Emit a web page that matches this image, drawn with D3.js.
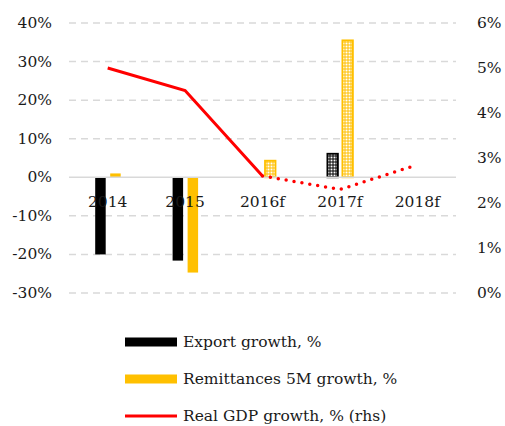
<!DOCTYPE html>
<html lang="en">
<head>
<meta charset="UTF-8">
<title>Export, remittances and GDP growth</title>
<script src="https://d3js.org/d3.v7.min.js"></script>
<style>
    body{ margin:0; padding:0; background:#fff; }
    svg{ font-family: "DejaVu Serif", serif; font-size: 15.5px; }
</style>
</head>
<body>
<svg id="canvas" width="505" height="426"></svg>
<script>

// data
const years = ["2014", "2015", "2016f", "2017f", "2018f"]
const exportGrowth = [-20, -21.6, null, 6.1, null]
const remitGrowth = [1, -24.7, 4.3, 35.5, null]
const gdpGrowth = [5.0, 4.5, 2.6, 2.3, 2.85]
const isForecast = [false, false, true, true, true]
const leftTicks = [40, 30, 20, 10, 0, -10, -20, -30]
const rightTicks = [6, 5, 4, 3, 2, 1, 0]

const svg = d3.select("#canvas")

const x = d3.scaleBand().domain(years).range([69, 456])
const yL = d3.scaleLinear().domain([-30, 40]).range([293, 23])
const yR = d3.scaleLinear().domain([0, 6]).range([293, 23])
const mid = (c) => x(c) + x.bandwidth() / 2

// patterns for forecast bars
const defs = svg.append("defs")
let makePattern = (id, colour) => {
    let p = defs.append("pattern").attr("id", id)
        .attr("patternUnits", "userSpaceOnUse")
        .attr("width", 3).attr("height", 3)
    p.append("rect").attr("width", 3).attr("height", 3).attr("fill", colour)
    p.append("rect").attr("x", 0.5).attr("y", 0.5).attr("width", 2).attr("height", 2).attr("fill", "#fff")
}
makePattern("patBlack", "#000")
makePattern("patGold", "#ffc000")

// gridlines
svg.append("g").selectAll("line")
    .data(leftTicks.filter(d => d !== 0))
    .enter().append("line")
    .attr("x1", 69).attr("x2", 456)
    .attr("y1", d => yL(d)).attr("y2", d => yL(d))
    .attr("stroke", "#d9d9d9").attr("stroke-width", 1.5)
    .attr("stroke-dasharray", "7,5")

// left axis labels
svg.append("g").selectAll("text")
    .data(leftTicks)
    .enter().append("text")
    .attr("x", 52).attr("y", d => yL(d) + 5)
    .attr("text-anchor", "end").attr("fill", "#1a1a1a")
    .text(d => d + "%")

// right axis labels
svg.append("g").selectAll("text")
    .data(rightTicks)
    .enter().append("text")
    .attr("x", 477).attr("y", d => yR(d) + 5)
    .attr("fill", "#1a1a1a")
    .text(d => d + "%")

// bars
let drawBars = (values, offset, colour, patId) => {
    let rows = years.map((c, i) => ({ c: c, v: values[i], f: isForecast[i] }))
        .filter(d => d.v !== null)
    svg.append("g").selectAll("rect")
        .data(rows)
        .enter().append("rect")
        .attr("x", d => mid(d.c) + offset)
        .attr("width", 10.5)
        .attr("y", d => yL(Math.max(0, d.v)))
        .attr("height", d => Math.abs(yL(d.v) - yL(0)))
        .attr("fill", d => d.f ? "url(#" + patId + ")" : colour)
        .attr("stroke", d => d.f ? colour : "none")
        .attr("stroke-width", 1.8)
}
drawBars(exportGrowth, -12.5, "#000", "patBlack")
drawBars(remitGrowth, 2.5, "#ffc000", "patGold")

// zero line
svg.append("line")
    .attr("x1", 69).attr("x2", 456)
    .attr("y1", yL(0)).attr("y2", yL(0))
    .attr("stroke", "#d9d9d9").attr("stroke-width", 1.5)

// x labels
svg.append("g").selectAll("text")
    .data(years)
    .enter().append("text")
    .attr("x", d => mid(d)).attr("y", 207)
    .attr("text-anchor", "middle").attr("fill", "#1a1a1a")
    .text(d => d)

// GDP line: solid for actual, dotted for forecast
const pts = years.map((c, i) => ({ c: c, v: gdpGrowth[i], i: i }))
const line = d3.line().x(d => mid(d.c)).y(d => yR(d.v))
svg.append("path")
    .attr("d", line(pts.filter(d => d.i <= 2)))
    .attr("fill", "none").attr("stroke", "#ff0000").attr("stroke-width", 3)
svg.append("path")
    .attr("d", line(pts.filter(d => d.i >= 2)))
    .attr("fill", "none").attr("stroke", "#ff0000").attr("stroke-width", 3.5)
    .attr("stroke-linecap", "round")
    .attr("stroke-dasharray", "0,8")

// legend
const legend = svg.append("g")
const items = [
    { label: "Export growth, %", colour: "#000", type: "rect", y: 342 },
    { label: "Remittances 5M growth, %", colour: "#ffc000", type: "rect", y: 379 },
    { label: "Real GDP growth, % (rhs)", colour: "#ff0000", type: "line", y: 416 }
]
items.forEach(it => {
    if (it.type === "rect") {
        legend.append("rect").attr("x", 125).attr("y", it.y - 4.5)
            .attr("width", 52).attr("height", 9).attr("fill", it.colour)
    } else {
        legend.append("line").attr("x1", 125).attr("x2", 177)
            .attr("y1", it.y).attr("y2", it.y)
            .attr("stroke", it.colour).attr("stroke-width", 3)
    }
    legend.append("text").attr("x", 183).attr("y", it.y + 5)
        .attr("fill", "#1a1a1a").text(it.label)
})

</script>
</body>
</html>
